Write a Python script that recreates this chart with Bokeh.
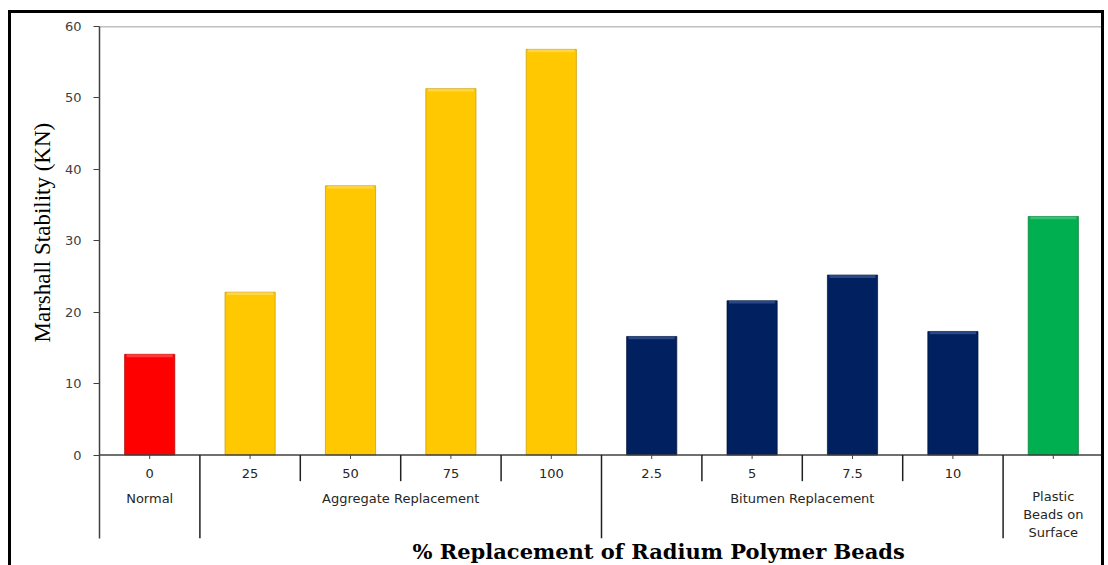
import math
from bokeh.plotting import figure
from bokeh.models import Range1d, FixedTicker, ColumnDataSource, Title
from bokeh.core.properties import value
from bokeh.embed import file_html
from bokeh.resources import INLINE

# ---- data ----
sub_labels = ["0", "25", "50", "75", "100", "2.5", "5", "7.5", "10", ""]
group_labels = ["Normal", "Aggregate Replacement", "Bitumen Replacement", "Plastic\nBeads on\nSurface"]
group_sizes = [1, 4, 4, 1]
group_colors = ["#FF0000", "#FFC800", "#002060", "#00B050"]
group_edges = ["#B00000", "#C89A00", "#001238", "#007A38"]
group_highlights = ["#FF6A6A", "#FFE27A", "#4A6AA8", "#5CD68E"]
stability = [14.1, 22.8, 37.7, 51.3, 56.8, 16.6, 21.6, 25.2, 17.3, 33.4]
y_ticks = [0, 10, 20, 30, 40, 50, 60]
y_title = "Marshall Stability (KN)"
x_title = "% Replacement of Radium Polymer Beads"

# ---- derived ----
n = len(stability)
xs = [i + 0.5 for i in range(n)]
colors, edges, highs = [], [], []
for c, e, h, s in zip(group_colors, group_edges, group_highlights, group_sizes):
    colors += [c] * s
    edges += [e] * s
    highs += [h] * s

Y_MIN = -11.69
p = figure(width=1096, height=555, output_backend="svg", toolbar_location=None,
           x_range=Range1d(0, n), y_range=Range1d(Y_MIN, 60),
           min_border_left=88, min_border_right=4, min_border_top=13, min_border_bottom=30)
p.styles = {"border": "3px solid black", "border-bottom": "none", "box-sizing": "border-box",
            "margin-left": "8px", "margin-top": "10px"}
p.outline_line_color = None
p.xgrid.visible = False
p.ygrid.visible = False
p.xaxis.visible = False

ya = p.yaxis[0]
ya.ticker = FixedTicker(ticks=y_ticks)
ya.major_tick_out = 6
ya.major_tick_in = 0
ya.minor_tick_out = 0
ya.minor_tick_in = 0
ya.axis_line_color = "#404040"
ya.axis_line_width = 1.5
ya.major_tick_line_color = "#404040"
ya.major_label_text_font = "DejaVu Sans"
ya.major_label_text_font_size = "13px"
ya.major_label_text_color = "#404040"
ya.major_label_standoff = 12

# bars with a light bevel on top
src = ColumnDataSource(dict(x=xs, top=stability, fill=colors, edge=edges, high=highs,
                            hb=[v - 0.4 for v in stability]))
p.vbar(x="x", top="top", bottom=0, width=0.5, fill_color="fill", line_color="edge",
       line_width=1, line_alpha=0.7, source=src)
p.vbar(x="x", top="top", bottom="hb", width=0.46, fill_color="high", line_color=None,
       fill_alpha=0.55, source=src)

# axis lines: zero line, top line, right border
p.segment(x0=[0], y0=[0], x1=[n], y1=[0], line_color="#404040", line_width=1.5)
p.segment(x0=[0], y0=[60], x1=[n], y1=[60], line_color="#808080", line_width=1.5)
p.segment(x0=[n], y0=[Y_MIN], x1=[n], y1=[60], line_color="#202020", line_width=1.5)

# small center ticks
p.segment(x0=xs, y0=[0] * n, x1=xs, y1=[-0.55] * n, line_color="#404040", line_width=1)

# separators
bounds = []
acc = 0
for s in group_sizes:
    acc += s
    bounds.append(acc)
short_x = [i for i in range(1, n) if i not in bounds]
long_x = [b for b in bounds if b < n]
p.segment(x0=short_x, y0=[0] * len(short_x), x1=short_x, y1=[-3.66] * len(short_x),
          line_color="#202020", line_width=1.5)
p.segment(x0=long_x, y0=[0] * len(long_x), x1=long_x, y1=[Y_MIN] * len(long_x),
          line_color="#202020", line_width=1.5)

# sub labels
p.text(x=xs, y=[-2.55] * n, text=sub_labels, text_align="center", text_baseline="middle",
       text_font=value("DejaVu Sans"), text_font_size="13px", text_color="#262626")

# group labels
gx, gy = [], []
start = 0
for s, g in zip(group_sizes, group_labels):
    gx.append(start + s / 2)
    lines = g.count("\n") + 1
    gy.append(-6.06 - (lines - 1) * 16 / 2 / 7.1)
    start += s
p.text(x=gx, y=gy, text=group_labels, text_align="center", text_baseline="middle",
       text_font=value("DejaVu Sans"), text_font_size="13px", text_color="#262626",
       text_line_height=1.2)

# titles
p.add_layout(Title(text=y_title, align="left", offset=196, standoff=14,
                   text_font="Liberation Serif", text_font_style="normal",
                   text_font_size="23px", text_color="#000000"), "left")
p.add_layout(Title(text=x_title, align="left", offset=313, standoff=-4,
                   text_font="DejaVu Serif", text_font_style="bold",
                   text_font_size="21px", text_color="#000000"), "below")

open("out.html", "w").write(file_html(p, INLINE))
